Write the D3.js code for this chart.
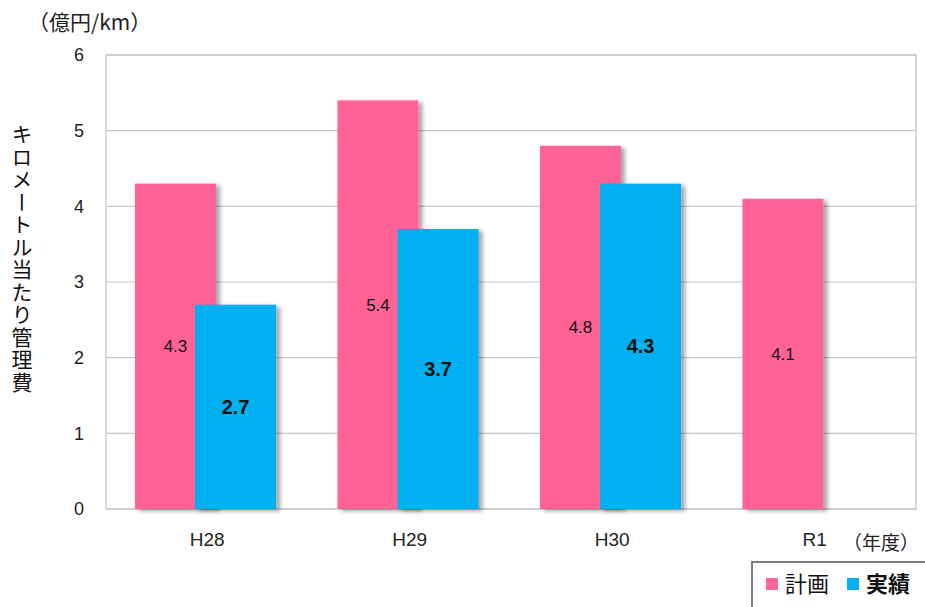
<!DOCTYPE html>
<html>
<head>
<meta charset="utf-8">
<script src="https://cdn.jsdelivr.net/npm/d3@7"></script>
<style>
  html, body { margin: 0; padding: 0; background: #fff; }
  svg { display: block; }
</style>
</head>
<body>
<svg id="chart" width="925" height="607"></svg>
<script>
// Per-km maintenance cost, plan vs. actual, by fiscal year
const categories = ["H28", "H29", "H30", "R1"];
const planValues = [4.3, 5.4, 4.8, 4.1];
const actualValues = [2.7, 3.7, 4.3, null];
const yTicks = [0, 1, 2, 3, 4, 5, 6];
const seriesNames = ["計画", "実績"];
const seriesColors = ["#FF6496", "#00B0F0"];

const jpFont = "'Noto Sans CJK JP', 'Noto Sans', sans-serif";
const numFont = "'Liberation Sans', Arial, sans-serif";

const svg = d3.select("#chart");
const plot = { left: 106, right: 916, top: 55, bottom: 509 };

const x = d3.scaleBand().domain(categories).range([plot.left, plot.right]);
const y = d3.scaleLinear().domain([0, 6]).range([plot.bottom, plot.top]);

// drop shadow for bars
const defs = svg.append("defs");
const f = defs.append("filter").attr("id", "shadow")
  .attr("x", "-10%").attr("y", "-10%").attr("width", "130%").attr("height", "130%");
f.append("feDropShadow").attr("dx", 4).attr("dy", 2).attr("stdDeviation", 2)
  .attr("flood-color", "#000").attr("flood-opacity", 0.35);

// gridlines
svg.append("g").selectAll("line").data(yTicks).join("line")
  .attr("x1", plot.left).attr("x2", plot.right)
  .attr("y1", d => y(d)).attr("y2", d => y(d))
  .attr("stroke", "#c8c8c8").attr("stroke-width", 1.2);

// plot frame
svg.append("rect")
  .attr("x", plot.left).attr("y", plot.top)
  .attr("width", plot.right - plot.left).attr("height", plot.bottom - plot.top)
  .attr("fill", "none").attr("stroke", "#c0c0c0").attr("stroke-width", 1.2);

// y tick labels
const yAxis = d3.axisLeft(y).tickValues(yTicks).tickSize(0).tickPadding(22).tickFormat(d3.format("d"));
const yg = svg.append("g").attr("transform", `translate(${plot.left},0)`).call(yAxis);
yg.select(".domain").remove();
yg.selectAll("text").attr("font-family", numFont).attr("font-size", 18).attr("fill", "#222");

// x labels
const xAxis = d3.axisBottom(x).tickSize(0).tickPadding(24);
const xg = svg.append("g").attr("transform", `translate(0,${plot.bottom})`).call(xAxis);
xg.select(".domain").remove();
xg.selectAll("text").attr("font-family", numFont).attr("font-size", 19).attr("fill", "#222");

const bw = x.bandwidth();
const barW = bw * 0.4;
const offsets = [bw * 0.143, bw * 0.44];
const seriesData = [planValues, actualValues];

seriesData.forEach((vals, si) => {
  const data = categories.map((c, i) => ({ c, v: vals[i] })).filter(d => d.v != null);
  svg.append("g").attr("filter", "url(#shadow)")
    .selectAll("rect").data(data).join("rect")
    .attr("x", d => x(d.c) + offsets[si])
    .attr("y", d => y(d.v))
    .attr("width", barW)
    .attr("height", d => y(0) - y(d.v))
    .attr("fill", seriesColors[si]);
});

// value labels
seriesData.forEach((vals, si) => {
  const data = categories.map((c, i) => ({ c, v: vals[i] })).filter(d => d.v != null);
  svg.append("g").selectAll("text").data(data).join("text")
    .attr("x", d => x(d.c) + offsets[si] + barW / 2)
    .attr("y", d => (y(d.v) + y(0)) / 2)
    .attr("dy", "0.35em")
    .attr("text-anchor", "middle")
    .attr("font-family", numFont)
    .attr("font-size", si === 0 ? 17 : 20)
    .attr("font-weight", si === 0 ? "normal" : "bold")
    .attr("fill", "#111")
    .text(d => d3.format(".1f")(d.v));
});

// unit label
svg.append("text").attr("x", 28).attr("y", 30)
  .attr("font-family", jpFont).attr("font-size", 21).attr("fill", "#222")
  .text("（億円/km）");

// year unit label
svg.append("text").attr("x", 843).attr("y", 550)
  .attr("font-family", jpFont).attr("font-size", 19).attr("fill", "#222")
  .text("（年度）");

// vertical y-axis title
svg.append("text")
  .attr("x", 22).attr("y", 124)
  .attr("font-family", jpFont).attr("font-size", 21).attr("fill", "#111")
  .style("writing-mode", "vertical-rl")
  .style("text-orientation", "upright")
  .attr("letter-spacing", 1.5)
  .text("キロメートル当たり管理費");

// legend
const lg = svg.append("g");
lg.append("rect").attr("x", 752).attr("y", 562).attr("width", 190).attr("height", 60)
  .attr("fill", "#fff").attr("stroke", "#555").attr("stroke-width", 1.5);
const legendItems = [
  { name: seriesNames[0], color: seriesColors[0], x: 766, bold: false },
  { name: seriesNames[1], color: seriesColors[1], x: 847, bold: true }
];
legendItems.forEach(it => {
  lg.append("rect").attr("x", it.x).attr("y", 578).attr("width", 12).attr("height", 12).attr("fill", it.color);
  lg.append("text").attr("x", it.x + 19).attr("y", 592)
    .attr("font-family", jpFont).attr("font-size", 22)
    .attr("font-weight", it.bold ? "bold" : "normal").attr("fill", "#111")
    .text(it.name);
});
</script>
</body>
</html>
